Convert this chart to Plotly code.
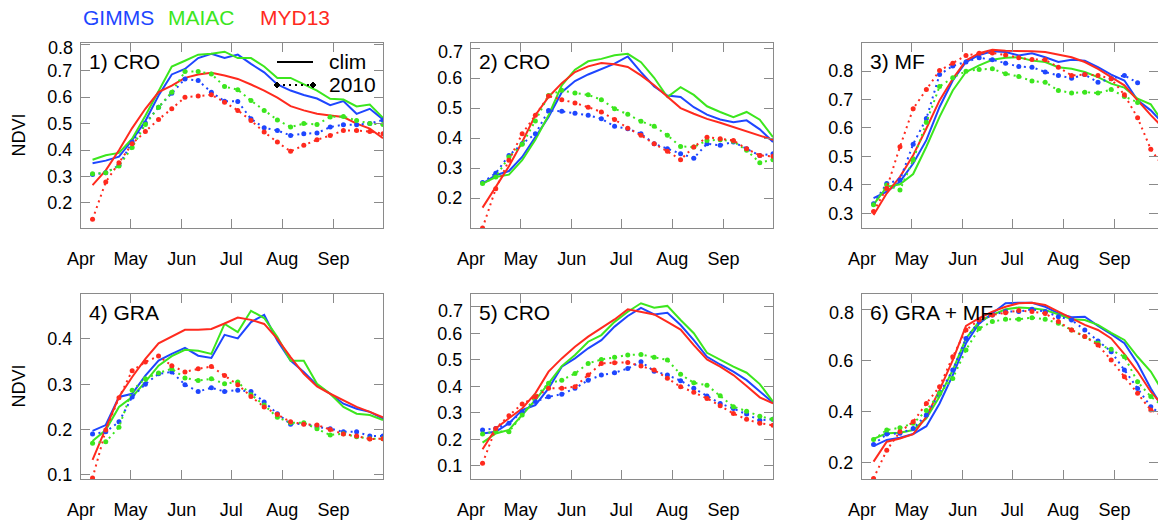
import datetime
import plotly.graph_objects as go

W, H = 1158, 521

# ---------------- data ----------------
dates = ["2010-04-08", "2010-04-16", "2010-04-24", "2010-05-02", "2010-05-10", "2010-05-18",
         "2010-05-26", "2010-06-03", "2010-06-11", "2010-06-19", "2010-06-27", "2010-07-05",
         "2010-07-13", "2010-07-21", "2010-07-29", "2010-08-06", "2010-08-14", "2010-08-22",
         "2010-08-30", "2010-09-07", "2010-09-15", "2010-09-23", "2010-10-01"]

month_ticks = ["2010-04-01", "2010-05-01", "2010-06-01", "2010-07-01", "2010-08-01", "2010-09-01"]
month_labels = ["Apr", "May", "Jun", "Jul", "Aug", "Sep"]

products = ["GIMMS", "MAIAC", "MYD13"]
panel_titles = ["1) CRO", "2) CRO", "3) MF", "4) GRA", "5) CRO", "6) GRA + MF"]

# Panel 1) CRO
p1_gimms_clim = [0.35, 0.36, 0.375, 0.437, 0.51, 0.606, 0.686, 0.707, 0.748, 0.764, 0.748, 0.761,
                 0.726, 0.694, 0.648, 0.625, 0.608, 0.595, 0.57, 0.585, 0.537, 0.556, 0.516]
p1_maiac_clim = [0.363, 0.38, 0.389, 0.443, 0.53, 0.625, 0.716, 0.738, 0.761, 0.764, 0.772, 0.748,
                 0.748, 0.716, 0.673, 0.673, 0.65, 0.625, 0.594, 0.591, 0.565, 0.572, 0.522]
p1_myd13_clim = [0.267, 0.323, 0.399, 0.483, 0.556, 0.619, 0.644, 0.673, 0.686, 0.692, 0.682, 0.669,
                 0.648, 0.625, 0.598, 0.566, 0.55, 0.537, 0.531, 0.525, 0.5, 0.481, 0.445]
p1_gimms_2010 = [0.307, 0.314, 0.342, 0.43, 0.502, 0.562, 0.615, 0.669, 0.663, 0.619, 0.585, 0.584,
                 0.518, 0.484, 0.474, 0.455, 0.462, 0.464, 0.487, 0.496, 0.496, 0.5, 0.514]
p1_maiac_2010 = [0.31, 0.314, 0.34, 0.41, 0.497, 0.562, 0.619, 0.697, 0.697, 0.688, 0.64, 0.628,
                 0.587, 0.55, 0.514, 0.487, 0.5, 0.497, 0.525, 0.527, 0.512, 0.5, 0.497]
p1_myd13_2010 = [0.138, 0.279, 0.352, 0.424, 0.47, 0.516, 0.556, 0.6, 0.604, 0.609, 0.581, 0.55,
                 0.512, 0.468, 0.43, 0.395, 0.418, 0.439, 0.455, 0.474, 0.474, 0.47, 0.462]

# Panel 2) CRO
p2_gimms_clim = [0.248, 0.276, 0.29, 0.337, 0.403, 0.47, 0.553, 0.59, 0.612, 0.631, 0.648, 0.672,
                 0.62, 0.572, 0.542, 0.537, 0.503, 0.478, 0.462, 0.453, 0.459, 0.429, 0.387]
p2_maiac_clim = [0.248, 0.27, 0.278, 0.326, 0.394, 0.476, 0.576, 0.628, 0.656, 0.664, 0.676, 0.681,
                 0.653, 0.601, 0.537, 0.57, 0.544, 0.506, 0.487, 0.47, 0.487, 0.461, 0.403]
p2_myd13_clim = [0.168, 0.237, 0.306, 0.387, 0.476, 0.537, 0.583, 0.62, 0.639, 0.65, 0.646, 0.637,
                 0.609, 0.576, 0.537, 0.5, 0.481, 0.464, 0.451, 0.437, 0.422, 0.409, 0.394]
p2_gimms_2010 = [0.252, 0.283, 0.342, 0.381, 0.414, 0.492, 0.489, 0.483, 0.476, 0.464, 0.439, 0.431,
                 0.414, 0.381, 0.364, 0.348, 0.333, 0.381, 0.376, 0.387, 0.364, 0.342, 0.348]
p2_maiac_2010 = [0.248, 0.27, 0.337, 0.379, 0.457, 0.542, 0.559, 0.55, 0.544, 0.528, 0.498, 0.479,
                 0.456, 0.439, 0.409, 0.372, 0.37, 0.392, 0.394, 0.389, 0.359, 0.318, 0.328]
p2_myd13_2010 = [0.1, 0.231, 0.326, 0.414, 0.476, 0.54, 0.528, 0.517, 0.503, 0.487, 0.462, 0.433,
                 0.409, 0.381, 0.356, 0.328, 0.37, 0.403, 0.398, 0.392, 0.364, 0.342, 0.339]

# Panel 3) MF
p3_gimms_clim = [0.353, 0.376, 0.411, 0.475, 0.557, 0.674, 0.767, 0.832, 0.857, 0.87, 0.867, 0.855,
                 0.863, 0.849, 0.832, 0.84, 0.837, 0.814, 0.788, 0.767, 0.697, 0.662, 0.613]
p3_maiac_clim = [0.33, 0.393, 0.402, 0.438, 0.534, 0.639, 0.732, 0.797, 0.82, 0.84, 0.847, 0.849,
                 0.837, 0.832, 0.814, 0.808, 0.797, 0.779, 0.756, 0.742, 0.703, 0.683, 0.615]
p3_myd13_clim = [0.294, 0.37, 0.428, 0.504, 0.598, 0.697, 0.773, 0.837, 0.863, 0.875, 0.872, 0.872,
                 0.87, 0.867, 0.857, 0.849, 0.832, 0.808, 0.779, 0.75, 0.697, 0.645, 0.598]
p3_gimms_2010 = [0.333, 0.405, 0.417, 0.543, 0.633, 0.788, 0.818, 0.832, 0.847, 0.84, 0.828, 0.816,
                 0.814, 0.797, 0.785, 0.775, 0.788, 0.761, 0.773, 0.785, 0.759, None, None]
p3_maiac_2010 = [0.33, 0.399, 0.382, 0.487, 0.62, 0.746, 0.777, 0.8, 0.806, 0.808, 0.791, 0.781,
                 0.765, 0.761, 0.732, 0.723, 0.726, 0.723, 0.735, 0.711, 0.69, None, None]
p3_myd13_2010 = [0.306, 0.388, 0.534, 0.668, 0.735, 0.802, 0.828, 0.855, 0.863, 0.864, 0.857, 0.847,
                 0.841, 0.84, 0.814, 0.785, 0.788, 0.785, 0.773, 0.717, 0.636, 0.525, 0.46]

# Panel 4) GRA
p4_gimms_clim = [0.197, 0.21, 0.272, 0.279, 0.319, 0.352, 0.367, 0.38, 0.363, 0.358, 0.409, 0.401,
                 0.437, 0.453, 0.396, 0.352, 0.327, 0.298, 0.279, 0.257, 0.246, 0.239, 0.224]
p4_maiac_clim = [0.175, 0.199, 0.25, 0.272, 0.305, 0.341, 0.362, 0.376, 0.374, 0.367, 0.433, 0.415,
                 0.462, 0.446, 0.404, 0.352, 0.352, 0.301, 0.279, 0.25, 0.235, 0.232, 0.221]
p4_myd13_clim = [0.133, 0.202, 0.272, 0.316, 0.356, 0.39, 0.405, 0.42, 0.42, 0.422, 0.434, 0.447,
                 0.442, 0.433, 0.4, 0.36, 0.323, 0.295, 0.279, 0.265, 0.25, 0.239, 0.227]
p4_gimms_2010 = [0.19, 0.195, 0.217, 0.272, 0.3, 0.323, 0.327, 0.299, 0.284, 0.292, 0.284, 0.287,
                 0.284, 0.261, 0.235, 0.212, 0.213, 0.206, 0.202, 0.195, 0.195, 0.186, 0.186]
p4_maiac_2010 = [0.17, 0.173, 0.205, 0.287, 0.312, 0.325, 0.334, 0.314, 0.308, 0.312, 0.301, 0.305,
                 0.277, 0.254, 0.227, 0.215, 0.215, 0.202, 0.188, 0.191, 0.184, 0.18, 0.18]
p4_myd13_2010 = [0.093, 0.199, 0.27, 0.33, 0.349, 0.362, 0.341, 0.327, 0.334, 0.339, 0.319, 0.299,
                 0.273, 0.25, 0.233, 0.217, 0.212, 0.21, 0.2, 0.19, 0.186, 0.179, 0.18]

# Panel 5) CRO
p5_gimms_clim = [0.222, 0.228, 0.26, 0.31, 0.329, 0.392, 0.474, 0.505, 0.543, 0.574, 0.625, 0.665,
                 0.696, 0.671, 0.677, 0.631, 0.574, 0.511, 0.482, 0.455, 0.423, 0.379, 0.338]
p5_maiac_clim = [0.187, 0.222, 0.235, 0.291, 0.348, 0.411, 0.476, 0.518, 0.568, 0.593, 0.643, 0.681,
                 0.713, 0.696, 0.703, 0.65, 0.6, 0.526, 0.499, 0.474, 0.451, 0.408, 0.342]
p5_myd13_clim = [0.162, 0.241, 0.279, 0.316, 0.373, 0.455, 0.505, 0.549, 0.587, 0.621, 0.652, 0.69,
                 0.681, 0.671, 0.643, 0.614, 0.555, 0.501, 0.474, 0.442, 0.401, 0.358, 0.335]
p5_gimms_2010 = [0.235, 0.241, 0.26, 0.304, 0.342, 0.36, 0.37, 0.392, 0.423, 0.442, 0.451, 0.467,
                 0.492, 0.457, 0.442, 0.421, 0.392, 0.363, 0.335, 0.316, 0.295, 0.272, 0.275]
p5_maiac_2010 = [0.22, 0.23, 0.228, 0.291, 0.36, 0.411, 0.423, 0.448, 0.486, 0.501, 0.509, 0.518,
                 0.52, 0.509, 0.499, 0.445, 0.413, 0.404, 0.364, 0.323, 0.306, 0.287, 0.275]
p5_myd13_2010 = [0.109, 0.241, 0.289, 0.333, 0.36, 0.392, 0.392, 0.398, 0.442, 0.486, 0.489, 0.49,
                 0.476, 0.461, 0.43, 0.398, 0.377, 0.354, 0.326, 0.297, 0.275, 0.26, 0.253]

# Panel 6) GRA + MF
p6_gimms_clim = [0.264, 0.288, 0.297, 0.311, 0.342, 0.431, 0.542, 0.667, 0.745, 0.784, 0.824, 0.826,
                 0.826, 0.81, 0.784, 0.769, 0.771, 0.735, 0.703, 0.667, 0.588, 0.49, 0.405]
p6_maiac_clim = [0.292, 0.314, 0.316, 0.327, 0.373, 0.458, 0.562, 0.686, 0.752, 0.778, 0.8, 0.807,
                 0.804, 0.797, 0.78, 0.761, 0.758, 0.739, 0.708, 0.68, 0.614, 0.556, 0.47]
p6_myd13_clim = [0.203, 0.281, 0.294, 0.311, 0.379, 0.484, 0.601, 0.735, 0.765, 0.791, 0.81, 0.824,
                 0.826, 0.817, 0.791, 0.765, 0.739, 0.719, 0.686, 0.624, 0.556, 0.477, 0.418]
p6_gimms_2010 = [0.27, 0.311, 0.314, 0.333, 0.386, 0.471, 0.562, 0.686, 0.752, 0.778, 0.791, 0.791,
                 0.8, 0.791, 0.771, 0.758, 0.719, 0.676, 0.634, 0.562, 0.49, 0.418, 0.38]
p6_maiac_2010 = [0.29, 0.327, 0.336, 0.353, 0.403, 0.471, 0.529, 0.641, 0.725, 0.752, 0.761, 0.761,
                 0.767, 0.761, 0.745, 0.719, 0.693, 0.667, 0.643, 0.614, 0.516, 0.458, 0.418]
p6_myd13_2010 = [0.137, 0.248, 0.32, 0.359, 0.431, 0.497, 0.614, 0.719, 0.758, 0.778, 0.787, 0.795,
                 0.791, 0.784, 0.752, 0.719, 0.693, 0.66, 0.601, 0.536, 0.471, 0.405, 0.38]

clim_series = [
    [p1_gimms_clim, p1_maiac_clim, p1_myd13_clim],
    [p2_gimms_clim, p2_maiac_clim, p2_myd13_clim],
    [p3_gimms_clim, p3_maiac_clim, p3_myd13_clim],
    [p4_gimms_clim, p4_maiac_clim, p4_myd13_clim],
    [p5_gimms_clim, p5_maiac_clim, p5_myd13_clim],
    [p6_gimms_clim, p6_maiac_clim, p6_myd13_clim],
]
y2010_series = [
    [p1_gimms_2010, p1_maiac_2010, p1_myd13_2010],
    [p2_gimms_2010, p2_maiac_2010, p2_myd13_2010],
    [p3_gimms_2010, p3_maiac_2010, p3_myd13_2010],
    [p4_gimms_2010, p4_maiac_2010, p4_myd13_2010],
    [p5_gimms_2010, p5_maiac_2010, p5_myd13_2010],
    [p6_gimms_2010, p6_maiac_2010, p6_myd13_2010],
]

y_tickvals = [
    [0.2, 0.3, 0.4, 0.5, 0.6, 0.7, 0.8],
    [0.2, 0.3, 0.4, 0.5, 0.6, 0.7],
    [0.3, 0.4, 0.5, 0.6, 0.7, 0.8],
    [0.1, 0.2, 0.3, 0.4],
    [0.1, 0.2, 0.3, 0.4, 0.5, 0.6, 0.7],
    [0.2, 0.4, 0.6, 0.8],
]
y_ranges = [
    [0.105, 0.805],
    [0.1, 0.717],
    [0.248, 0.899],
    [0.091, 0.499],
    [0.05, 0.748],
    [0.135, 0.86],
]

# ---------------- styling ----------------
colors = {"GIMMS": "#1E46FF", "MAIAC": "#3CE61E", "MYD13": "#FF2A1E"}
FONT = "Liberation Sans, Arial, Helvetica, sans-serif"
FRAME = "#8a8a8a"
TICK_SIZE = 18

# panel pixel boxes (left, right, top, bottom)
col_px = [(81, 383), (471, 773), (862, 1164)]
row_px = [(43, 228), (294, 479)]
# top y-tick label nudged down (px) so it stays inside the frame, as in the original
top_label_nudge = [4, 4, 0, 0, 4, 4]

fig = go.Figure()

layout = dict(
    template="none",
    width=W, height=H, autosize=False,
    margin=dict(l=0, r=0, t=0, b=0, pad=0, autoexpand=False),
    paper_bgcolor="white", plot_bgcolor="white",
    showlegend=False,
    font=dict(family=FONT, color="black"),
)

annotations = []
shapes = []

for p in range(6):
    r, c = divmod(p, 3)
    L, R = col_px[c]
    T, B = row_px[r]
    vis_R = min(R, W)
    x0 = L / W
    x1 = vis_R / W
    y0 = 1 - B / H
    y1 = 1 - T / H
    # range end (truncate the panels cut by the page edge)
    vis_days = 183.0 * (vis_R - L) / (R - L)
    xend = (datetime.datetime(2010, 4, 1) + datetime.timedelta(days=vis_days)).strftime("%Y-%m-%d %H:%M")

    tv = y_tickvals[p]
    tt = ["%.1f" % v for v in tv]
    nudge = top_label_nudge[p]
    if nudge:
        top_val = tv[-1]
        tt[-1] = ""
        lo, hi = y_ranges[p]
        tick_px = T + (hi - top_val) / (hi - lo) * (B - T)
        annotations.append(dict(
            text="%.1f" % top_val, xref="paper", yref="paper",
            x=(L - 6) / W, y=1 - (tick_px + nudge) / H, xanchor="right", yanchor="middle",
            showarrow=False, font=dict(size=TICK_SIZE, family=FONT, color="black"),
        ))

    idx = "" if p == 0 else str(p + 1)
    layout["xaxis" + idx] = dict(
        domain=[x0, x1], anchor="y" + idx, type="date",
        range=["2010-04-01", xend], automargin=False,
        tickvals=month_ticks, ticktext=month_labels,
        ticks="inside", ticklen=9, tickcolor=FRAME, tickwidth=1,
        showline=True, linecolor=FRAME, linewidth=1, mirror="ticks",
        showgrid=False, zeroline=False,
        tickfont=dict(size=TICK_SIZE, family=FONT, color="black"),
        ticklabelstandoff=14,
    )
    layout["yaxis" + idx] = dict(
        domain=[y0, y1], anchor="x" + idx, automargin=False,
        range=y_ranges[p],
        tickvals=tv, ticktext=tt,
        ticks="inside", ticklen=9, tickcolor=FRAME, tickwidth=1,
        showline=True, linecolor=FRAME, linewidth=1, mirror="ticks",
        showgrid=False, zeroline=False,
        tickfont=dict(size=TICK_SIZE, family=FONT, color="black"),
        ticklabelstandoff=4,
    )

    for j, prod in enumerate(products):
        fig.add_trace(go.Scatter(
            x=dates, y=clim_series[p][j], mode="lines",
            line=dict(color=colors[prod], width=2),
            xaxis="x" + idx, yaxis="y" + idx, name=prod + " clim",
        ))
    for j, prod in enumerate(products):
        fig.add_trace(go.Scatter(
            x=dates, y=y2010_series[p][j], mode="lines+markers",
            line=dict(color=colors[prod], width=2, dash="2px,4px"),
            marker=dict(color=colors[prod], size=5, symbol="circle"),
            xaxis="x" + idx, yaxis="y" + idx, name=prod + " 2010",
            connectgaps=False,
        ))

    annotations.append(dict(
        text=panel_titles[p], xref="paper", yref="paper",
        x=(L + 6) / W, y=1 - (T + 18) / H, xanchor="left", yanchor="middle",
        showarrow=False, font=dict(size=21, family=FONT, color="black"),
    ))

# y-axis titles
for r in range(2):
    T, B = row_px[r]
    annotations.append(dict(
        text="NDVI", xref="paper", yref="paper",
        x=18 / W, y=1 - ((T + B) / 2) / H, xanchor="center", yanchor="middle",
        textangle=-90, showarrow=False, font=dict(size=18, family=FONT, color="black"),
    ))

# product colour key at top
key_x = [81, 166, 258]
for prod, kx in zip(products, key_x):
    annotations.append(dict(
        text=prod, xref="paper", yref="paper",
        x=kx / W, y=1 - 17 / H, xanchor="left", yanchor="middle",
        showarrow=False, font=dict(size=21, family=FONT, color=colors[prod]),
    ))


# clim / 2010 key inside panel 1
def px(x):
    return x / W


def py(y):
    return 1 - y / H


shapes.append(dict(type="line", xref="paper", yref="paper",
                   x0=px(277), x1=px(313), y0=py(62), y1=py(62),
                   line=dict(color="black", width=2)))
shapes.append(dict(type="line", xref="paper", yref="paper",
                   x0=px(277), x1=px(313), y0=py(85), y1=py(85),
                   line=dict(color="black", width=2, dash="2px,4px")))
for cx in (277, 313):
    d = 3
    path = "M {a},{b} L {c},{e} L {f},{b} L {c},{g} Z".format(
        a=px(cx - d), b=py(85), c=px(cx), e=py(85 - d), f=px(cx + d), g=py(85 + d))
    shapes.append(dict(type="path", xref="paper", yref="paper", path=path,
                       fillcolor="black", line=dict(color="black", width=1)))
annotations.append(dict(text="clim", xref="paper", yref="paper", x=px(327), y=py(62),
                        xanchor="left", yanchor="middle", showarrow=False,
                        font=dict(size=21, family=FONT, color="black")))
annotations.append(dict(text="2010", xref="paper", yref="paper", x=px(327), y=py(85),
                        xanchor="left", yanchor="middle", showarrow=False,
                        font=dict(size=21, family=FONT, color="black")))

layout["annotations"] = annotations
layout["shapes"] = shapes
fig.update_layout(**layout)

fig.write_html("out.html")
